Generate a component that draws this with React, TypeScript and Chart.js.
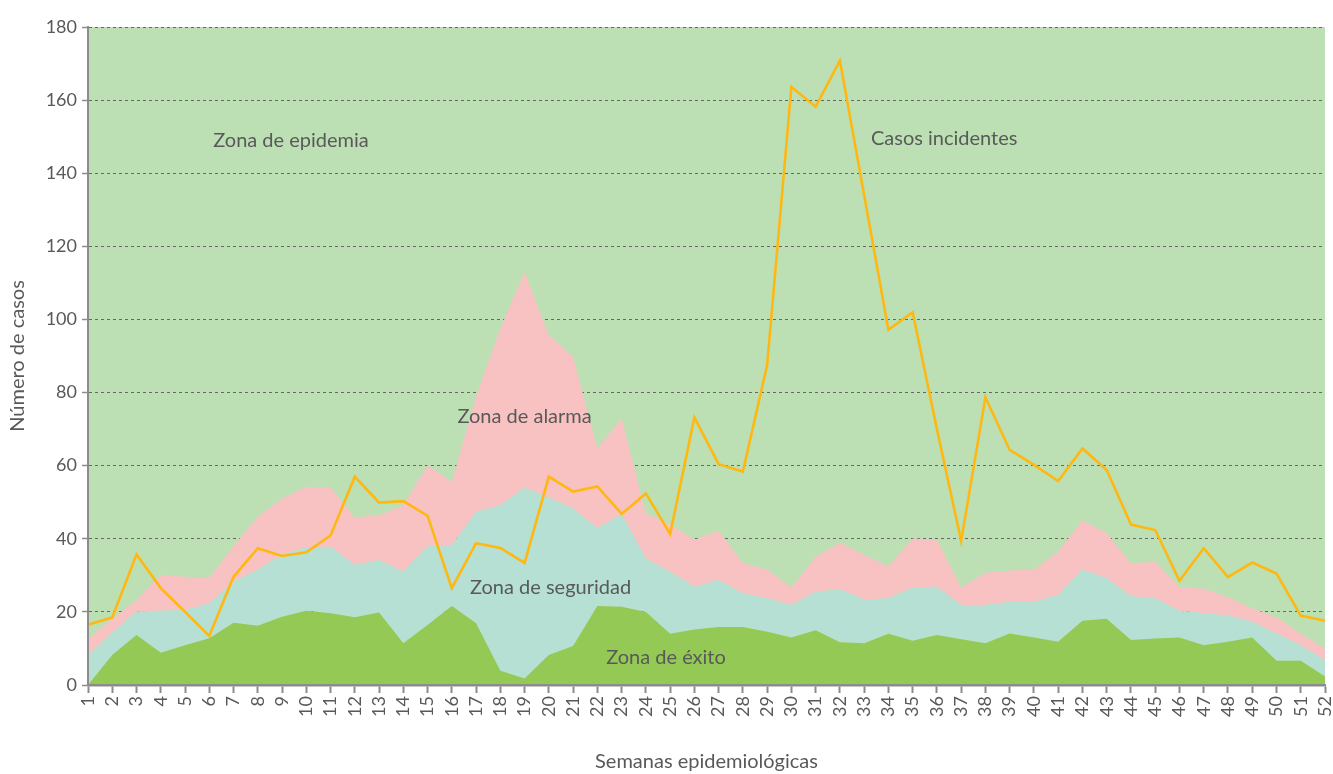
import React, { useEffect, useRef } from 'react';
import { Chart, registerables } from 'chart.js';

Chart.register(...registerables);

const WEEKS = [
  '1', '2', '3', '4', '5', '6', '7', '8', '9', '10', '11', '12', '13',
  '14', '15', '16', '17', '18', '19', '20', '21', '22', '23', '24', '25', '26',
  '27', '28', '29', '30', '31', '32', '33', '34', '35', '36', '37', '38', '39',
  '40', '41', '42', '43', '44', '45', '46', '47', '48', '49', '50', '51', '52',
];

// Upper limit of each zone (cumulative values)
const EXITO = [
  0, 8.2, 13.7, 8.8, 10.9, 12.8, 17, 16.2, 18.7, 20.3, 19.6, 18.5, 19.8,
  11.4, 16.4, 21.6, 16.9, 3.9, 1.8, 8.2, 10.7, 21.6, 21.4, 20, 14, 15.2,
  15.9, 15.9, 14.6, 13, 15, 11.7, 11.4, 14, 12.1, 13.7, 12.5, 11.4, 14.1,
  13, 11.8, 17.6, 18.1, 12.3, 12.7, 13, 10.9, 11.8, 13, 6.6, 6.6, 2.3,
];

const SEGURIDAD = [
  8.2, 14.3, 20.2, 20.3, 20.5, 22.3, 28.3, 31.5, 35.6, 37.7, 37.8, 32.8, 34.2,
  31, 38, 38.3, 47.4, 49.2, 54, 51.3, 48.3, 42.9, 46.8, 34.6, 31, 26.9,
  28.7, 25.1, 23.7, 21.9, 25.5, 26.2, 23.4, 23.7, 26.7, 26.9, 21.9, 21.9, 22.8,
  22.8, 24.6, 31.6, 29.2, 24.3, 23.7, 20.3, 19.6, 19, 17.3, 14.1, 10.9, 6.8,
];

const ALARMA = [
  12.5, 18.2, 23.2, 30.1, 29.6, 29.3, 38, 46, 51, 54.2, 54, 45.8, 46.5,
  49.2, 60.2, 55.6, 79, 97.5, 113, 95.7, 89.8, 64.7, 72.9, 47, 44, 39.7,
  42.2, 33.3, 31.6, 26.7, 35.1, 38.9, 35.6, 32.4, 40.1, 39.7, 26.7, 30.7, 31.3,
  31.6, 36.5, 45.1, 41.5, 33.3, 33.7, 26.7, 26.4, 24, 21, 18.5, 14, 10,
];

const CASOS = [
  16.5, 18.5, 35.7, 26.5, 20, 13.4, 29.6, 37.4, 35.3, 36.3, 40.9, 57, 49.9,
  50.3, 46.3, 26.5, 38.8, 37.5, 33.4, 57, 52.9, 54.3, 46.8, 52.4, 41.3, 73.2,
  60.4, 58.4, 87.5, 163.6, 158.2, 170.8, 134, 97.2, 102, 70, 39.4, 78.7, 64.3,
  60.2, 55.8, 64.7, 58.8, 43.9, 42.4, 28.5, 37.4, 29.5, 33.5, 30.5, 19, 17.6,
];

const Y_MIN = 0;
const Y_MAX = 180;
const Y_STEP = 20;

const ZONE_LABELS = [
  { text: 'Zona de epidemia', week: 9.37, value: 149 },
  { text: 'Casos incidentes', week: 36.3, value: 149.5 },
  { text: 'Zona de alarma', week: 19.0, value: 73.5 },
  { text: 'Zona de seguridad', week: 20.07, value: 26.6 },
  { text: 'Zona de éxito', week: 24.83, value: 7.6 },
];

const FONT = 'Lato';
const TEXT_COLOR = '#595959';
const AXIS_COLOR = '#8c8c8c';

export default function App() {
  const ref = useRef<HTMLCanvasElement>(null);

  useEffect(() => {
    document.body.style.margin = '0';
    const canvas = ref.current;
    if (!canvas) return;

    const bgPlugin = {
      id: 'zoneBg',
      beforeDraw(chart: any) {
        const { ctx, chartArea: a } = chart;
        ctx.save();
        ctx.fillStyle = '#BDDFB4';
        ctx.fillRect(a.left, a.top, a.right - a.left, a.bottom - a.top);
        ctx.restore();
      },
    };

    const labelPlugin = {
      id: 'zoneLabels',
      afterDatasetsDraw(chart: any) {
        const { ctx } = chart;
        const xs = chart.scales.x;
        const ys = chart.scales.y;
        ctx.save();
        ctx.font = `20px ${FONT}`;
        ctx.fillStyle = TEXT_COLOR;
        ctx.textAlign = 'center';
        ctx.textBaseline = 'middle';
        for (const l of ZONE_LABELS) {
          ctx.fillText(l.text, xs.getPixelForValue(l.week - 1), ys.getPixelForValue(l.value));
        }
        ctx.restore();
      },
    };

    const area = (label: string, data: number[], color: string, fill: any) => ({
      label,
      data,
      backgroundColor: color,
      borderColor: color,
      borderWidth: 0,
      pointRadius: 0,
      fill,
      tension: 0,
      order: 1,
    });

    const chart = new Chart(canvas, {
      type: 'line',
      data: {
        labels: WEEKS,
        datasets: [
          area('Zona de éxito', EXITO, '#93C954', 'origin'),
          area('Zona de seguridad', SEGURIDAD, '#B5E0D3', '-1'),
          area('Zona de alarma', ALARMA, '#F8C2C2', '-1'),
          {
            label: 'Casos incidentes',
            data: CASOS,
            borderColor: '#FFB812',
            backgroundColor: '#FFB812',
            borderWidth: 2.6,
            pointRadius: 0,
            fill: false,
            tension: 0,
            order: 0,
          },
        ],
      },
      options: {
        responsive: false,
        animation: false,
        devicePixelRatio: 1,
        layout: { padding: { top: 27, right: 8, left: 0, bottom: 0 } },
        plugins: {
          legend: { display: false },
          tooltip: { enabled: false },
        },
        scales: {
          x: {
            type: 'category',
            offset: false,
            grid: {
              drawOnChartArea: false,
              drawTicks: true,
              tickLength: 8,
              tickColor: AXIS_COLOR,
              tickWidth: 2,
            },
            border: { display: true, color: AXIS_COLOR, width: 2.5, z: 1 },
            ticks: {
              color: TEXT_COLOR,
              font: { family: FONT, size: 18 },
              minRotation: 90,
              maxRotation: 90,
              autoSkip: false,
              padding: 3,
            },
            title: {
              display: true,
              text: 'Semanas epidemiológicas',
              color: TEXT_COLOR,
              font: { family: FONT, size: 20 },
              padding: { top: 0, bottom: 0 },
            },
            afterFit(s: any) {
              s.height = 89;
              s.paddingLeft = 0;
              s.paddingRight = 0;
            },
          },
          y: {
            min: Y_MIN,
            max: Y_MAX,
            ticks: {
              stepSize: Y_STEP,
              color: TEXT_COLOR,
              font: { family: FONT, size: 18 },
              padding: 5,
            },
            grid: {
              color: '#666666',
              lineWidth: 1,
              drawTicks: true,
              tickLength: 6,
              tickColor: AXIS_COLOR,
              tickWidth: 1.5,
              tickBorderDash: [],
            },
            border: { display: true, color: AXIS_COLOR, width: 2, dash: [3, 3], z: 1 },
            title: {
              display: true,
              text: 'Número de casos',
              color: TEXT_COLOR,
              font: { family: FONT, size: 20 },
              padding: { top: 6, bottom: 0 },
            },
            afterFit(s: any) {
              s.width = 88;
            },
          },
        },
      },
      plugins: [bgPlugin, labelPlugin],
    });

    return () => chart.destroy();
  }, []);

  return (
    <div style={{ position: 'fixed', left: 0, top: 0, width: 1333, height: 774, background: '#fff' }}>
      <canvas ref={ref} width={1333} height={774} style={{ display: 'block' }} />
    </div>
  );
}
